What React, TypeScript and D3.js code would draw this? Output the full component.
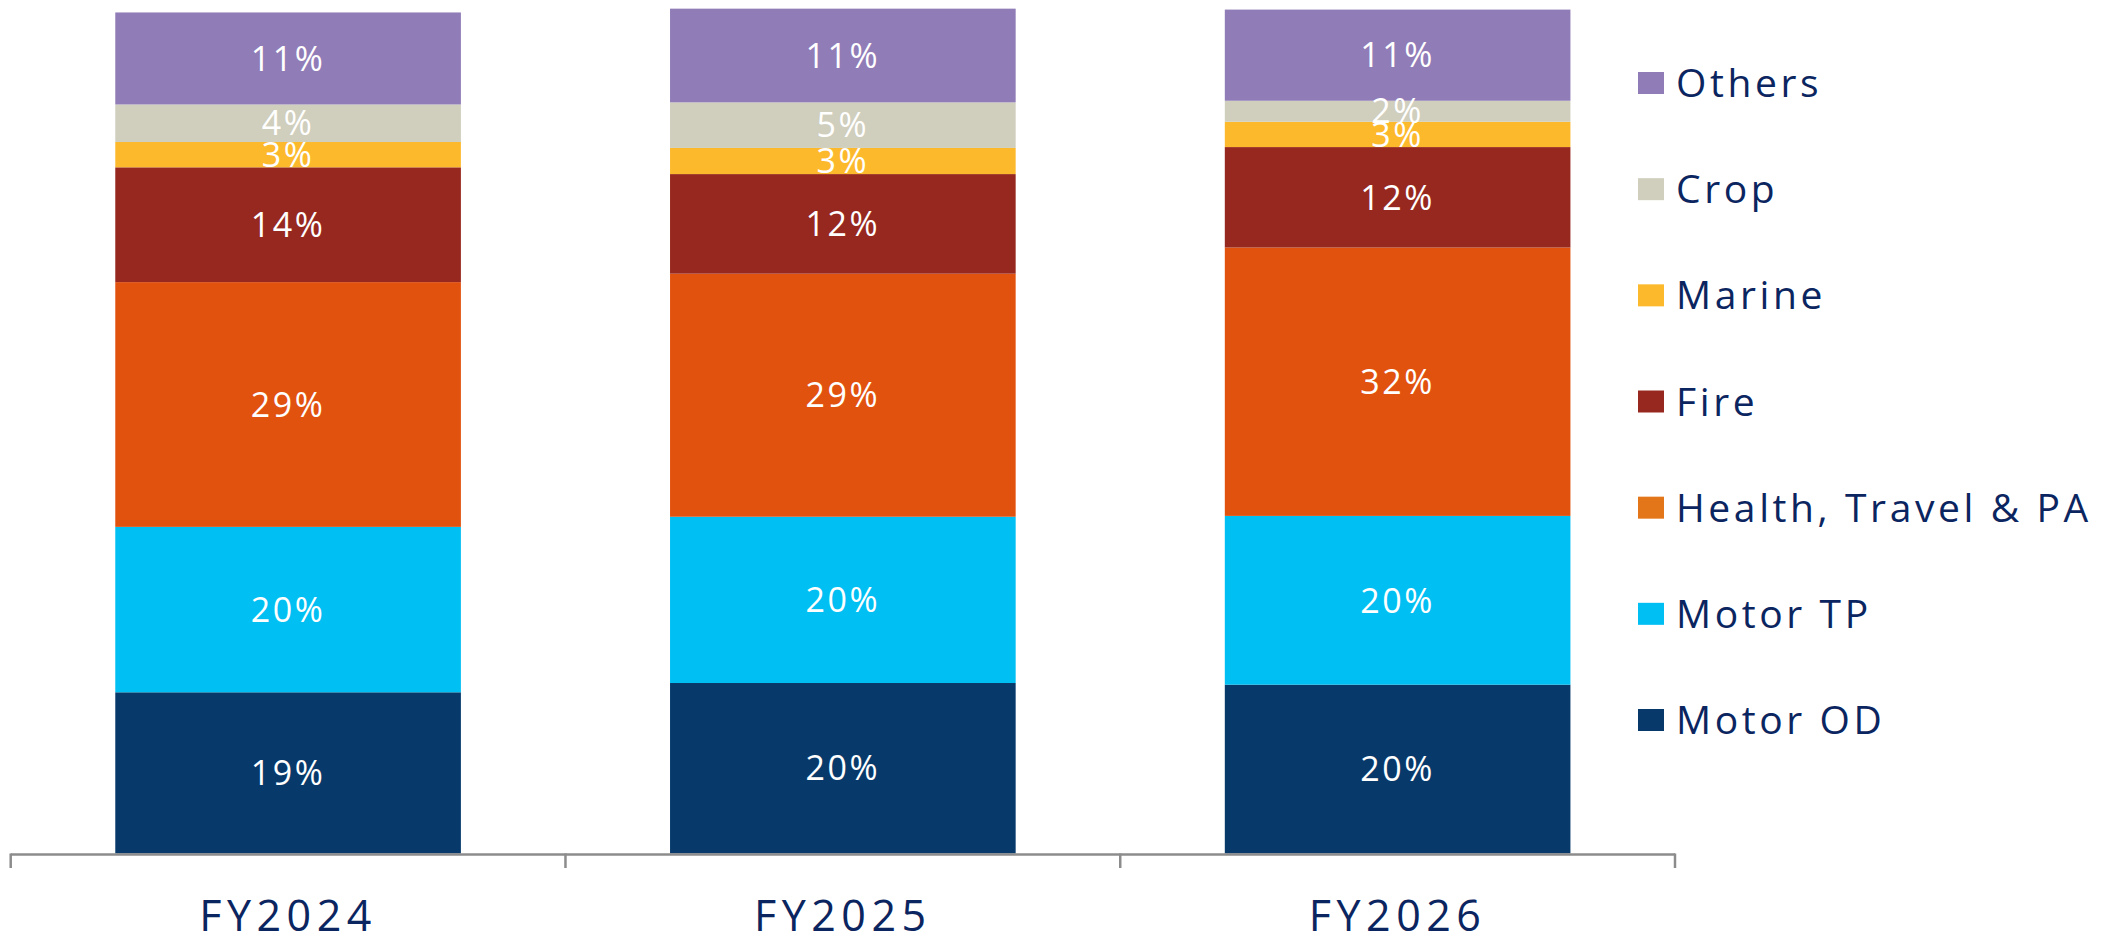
import React, { useEffect } from "react";
import * as d3 from "d3";

const categories = ["FY2024", "FY2025", "FY2026"];
const seriesNames = ["Motor OD", "Motor TP", "Health, Travel & PA", "Fire", "Marine", "Crop", "Others"];

const motorOD = [19.1, 20.2, 20.0];
const motorTP = [19.6, 19.7, 20.0];
const health = [29.0, 28.8, 31.8];
const fire = [13.6, 11.8, 11.9];
const marine = [3.0, 3.1, 3.0];
const crop = [4.45, 5.4, 2.49];
const others = [10.9, 11.1, 10.8];

const seriesValues = [motorOD, motorTP, health, fire, marine, crop, others];
const barColors = ["#073a6b", "#00bff3", "#e2520f", "#97281f", "#fdb92c", "#d0cebd", "#907cb7"];
const legendColors = ["#073a6b", "#00bff3", "#e4761a", "#97281f", "#fdb92c", "#d0cebd", "#907cb7"];

const W = 2101;
const H = 944;
const FONT = "'Open Sans', 'Noto Sans', sans-serif";
const NAVY = "#0b2560";

export default function App() {
  useEffect(() => {
    document.body.style.margin = "0";
  }, []);

  const rows = categories.map((c, i) => {
    const r: any = { cat: c };
    seriesNames.forEach((s, j) => (r[s] = seriesValues[j][i]));
    return r;
  });
  const stacked = d3.stack<any>().keys(seriesNames)(rows);

  const x0 = 10.7;
  const x1 = 1675;
  const x = d3
    .scaleBand<string>()
    .domain(categories)
    .range([x0, x1])
    .paddingInner(0.377)
    .paddingOuter(0.1885);
  const y = d3.scaleLinear().domain([0, 100]).range([853.5, 9.5]);
  const step = x.step();
  const boundaries = d3.range(categories.length + 1).map((i) => x0 + i * step);

  const legendItems = seriesNames.map((s, i) => ({ s, i })).reverse();
  const legendY = d3.scalePoint<string>().domain(legendItems.map((d) => d.s)).range([83, 720]);

  return (
    <svg width={W} height={H} style={{ display: "block", background: "#fff" }}>
      {stacked.map((layer, li) => (
        <g key={layer.key}>
          {layer.map((d, ci) => {
            const top = y(d[1]);
            const bot = y(d[0]);
            const cat = categories[ci];
            return (
              <rect key={cat} x={x(cat)} y={top} width={x.bandwidth()} height={bot - top} fill={barColors[li]} />
            );
          })}
        </g>
      ))}
      {stacked.map((layer, li) => (
        <g key={"l" + layer.key}>
          {layer.map((d, ci) => {
            const cat = categories[ci];
            const cy = (y(d[1]) + y(d[0])) / 2;
            const v = seriesValues[li][ci];
            return (
              <text
                key={cat}
                x={(x(cat) as number) + x.bandwidth() / 2}
                y={cy}
                dy="0.36em"
                textAnchor="middle"
                fill="#ffffff"
                fontFamily={FONT}
                fontSize={34}
                letterSpacing={2.5}
              >
                {Math.round(v)}%
              </text>
            );
          })}
        </g>
      ))}
      <g stroke="#8c8c8c" strokeWidth={2.5} fill="none">
        <line x1={x0} x2={x1} y1={y(0) + 1} y2={y(0) + 1} />
        {boundaries.map((b, i) => (
          <line key={i} x1={b} x2={b} y1={y(0)} y2={868} />
        ))}
      </g>
      {categories.map((c) => (
        <text
          key={c}
          x={(x(c) as number) + x.bandwidth() / 2}
          y={931}
          textAnchor="middle"
          fill={NAVY}
          fontFamily={FONT}
          fontSize={43}
          letterSpacing={5.5}
        >
          {c}
        </text>
      ))}
      {legendItems.map(({ s, i }) => {
        const cy = legendY(s) as number;
        return (
          <g key={s}>
            <rect x={1638} y={cy - 11} width={26} height={22} fill={legendColors[i]} />
            <text x={1676} y={cy} dy="0.36em" fill={NAVY} fontFamily={FONT} fontSize={39} letterSpacing={3.6}>
              {s}
            </text>
          </g>
        );
      })}
    </svg>
  );
}
